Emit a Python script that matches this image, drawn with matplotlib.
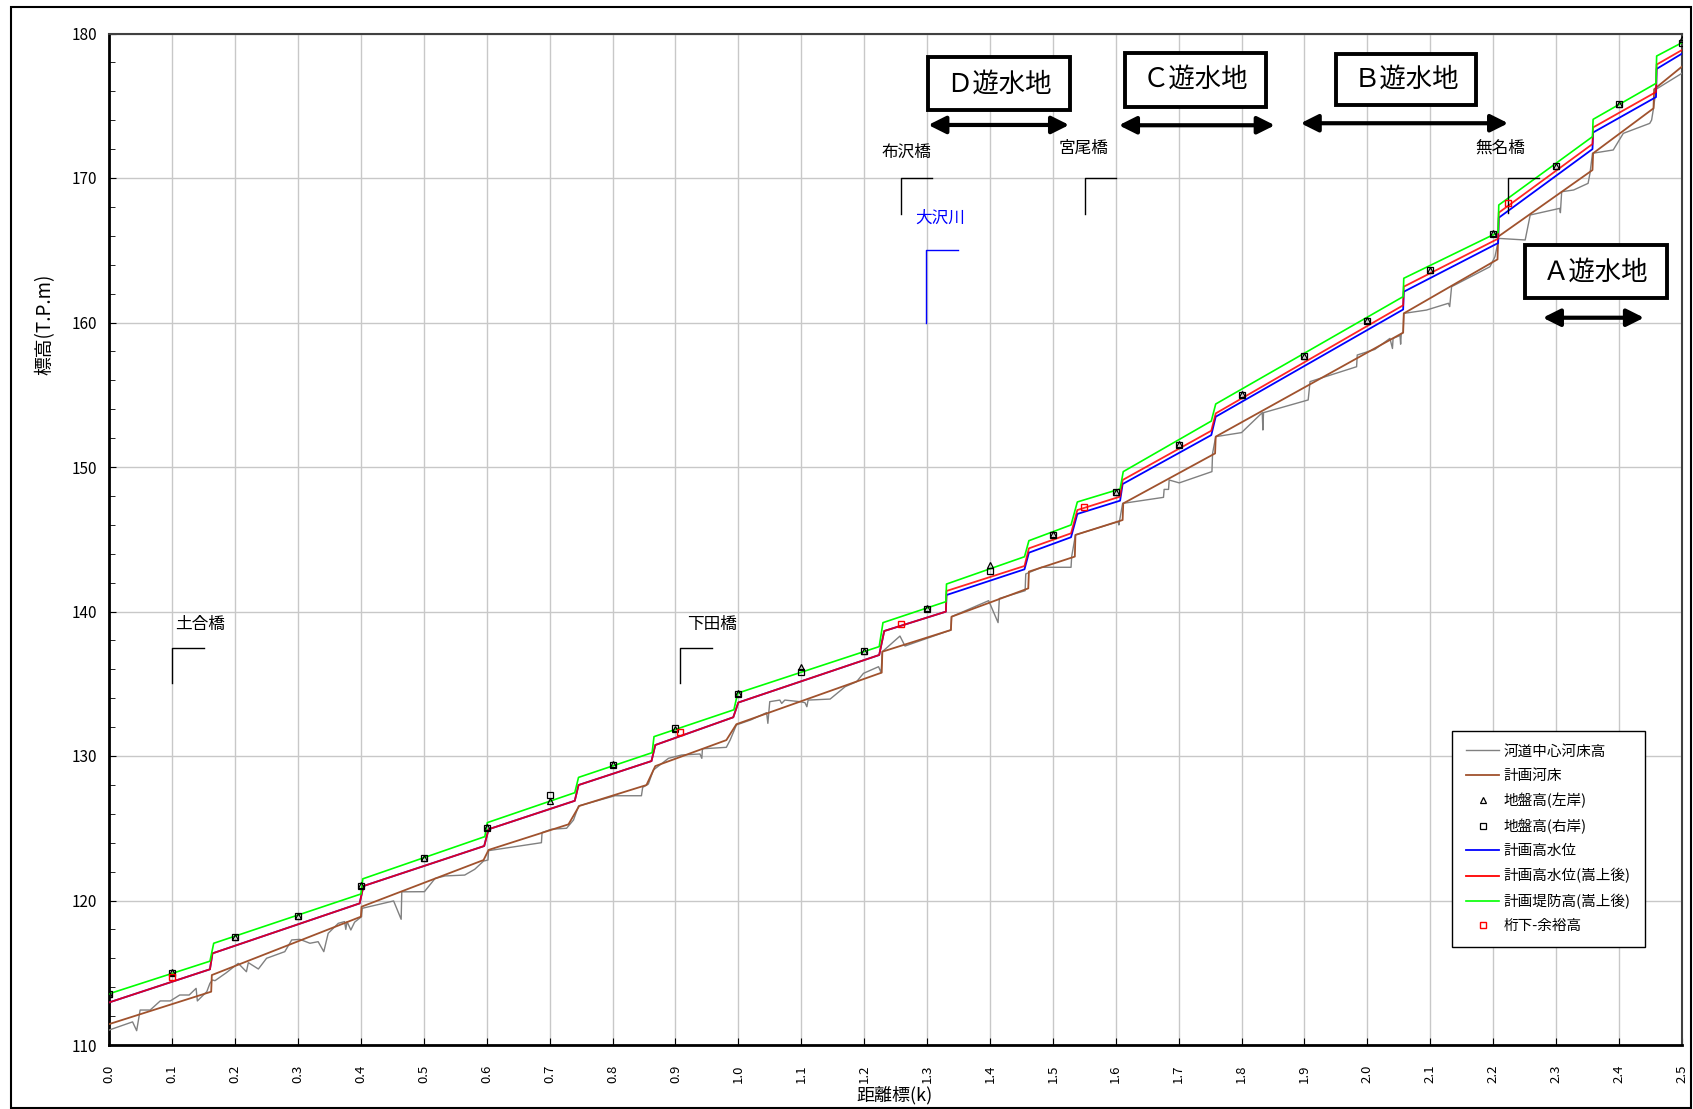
import numpy as np
import matplotlib
matplotlib.use('Agg')
import matplotlib.pyplot as plt
from matplotlib.patches import Rectangle
from matplotlib.lines import Line2D

plt.rcParams['font.family'] = ['Noto Sans CJK JP', 'DejaVu Sans']

# 河道中心河床高 (gray)
bed_x = [0.000, 0.037, 0.0435, 0.049, 0.065, 0.081, 0.097, 0.112, 0.127, 0.138, 0.140, 0.155, 0.160, 0.164,
         0.168, 0.186, 0.205, 0.218, 0.221, 0.237, 0.250, 0.279, 0.290, 0.303, 0.319, 0.332, 0.341, 0.348,
         0.364, 0.374, 0.376, 0.378, 0.384, 0.390, 0.401, 0.402, 0.452, 0.464, 0.465, 0.501, 0.518, 0.534,
         0.565, 0.581, 0.595, 0.602, 0.603, 0.687, 0.688, 0.703, 0.727, 0.738, 0.746, 0.804, 0.846, 0.848,
         0.857, 0.865, 0.889, 0.910, 0.939, 0.942, 0.943, 0.981, 0.987, 0.997, 1.020, 1.045, 1.047, 1.050,
         1.066, 1.069, 1.074, 1.098, 1.106, 1.109, 1.111, 1.146, 1.170, 1.188, 1.199, 1.223, 1.227, 1.229,
         1.257, 1.265, 1.338, 1.339, 1.398, 1.413, 1.415, 1.456, 1.457, 1.482, 1.529, 1.530, 1.536, 1.604,
         1.605, 1.611, 1.676, 1.677, 1.684, 1.685, 1.701, 1.753, 1.754, 1.759, 1.800, 1.833, 1.834, 1.835,
         1.906, 1.909, 1.983, 1.984, 2.012, 2.036, 2.040, 2.041, 2.052, 2.053, 2.054, 2.057, 2.058, 2.094,
         2.129, 2.131, 2.134, 2.195, 2.203, 2.209, 2.251, 2.259, 2.306, 2.307, 2.309, 2.328, 2.351, 2.354,
         2.358, 2.391, 2.407, 2.449, 2.452, 2.455, 2.459, 2.500]
bed_y = [111.04, 111.60, 110.99, 112.42, 112.42, 113.05, 113.05, 113.46, 113.46, 113.92, 113.05, 113.69, 114.27, 114.50,
         114.45, 115.00, 115.65, 115.07, 115.70, 115.26, 116.00, 116.46, 117.27, 117.31, 117.04, 117.15, 116.46, 117.73,
         118.42, 118.54, 118.00, 118.54, 117.96, 118.50, 118.88, 119.46, 119.97, 118.70, 120.60, 120.61, 121.53, 121.70,
         121.76, 122.16, 122.73, 122.80, 123.45, 124.00, 124.70, 124.93, 125.00, 125.57, 126.54, 127.25, 127.25, 127.83,
         128.06, 129.03, 129.84, 130.07, 130.14, 129.84, 130.50, 130.60, 131.10, 132.15, 132.50, 133.00, 132.26, 133.76,
         133.87, 133.64, 133.87, 133.76, 133.69, 133.41, 133.87, 133.94, 134.80, 135.14, 135.72, 136.18, 135.77, 137.22,
         138.30, 137.61, 138.72, 139.64, 140.75, 139.23, 140.90, 141.44, 142.60, 143.06, 143.06, 143.80, 145.30, 146.22,
         145.99, 147.48, 147.90, 148.45, 148.45, 149.10, 148.90, 149.68, 150.94, 152.10, 152.38, 153.76, 152.56, 153.76,
         154.64, 155.91, 156.94, 157.75, 158.14, 158.90, 158.20, 158.90, 159.10, 158.50, 159.20, 159.30, 160.63, 160.86,
         161.33, 161.10, 162.48, 163.86, 164.56, 165.82, 165.71, 167.44, 167.90, 167.60, 169.05, 169.17, 169.63, 170.32,
         171.71, 171.94, 173.09, 173.78, 174.01, 174.82, 176.14, 177.24]

# 計画河床 (brown)
plan_bed_x = [0.000, 0.162, 0.163, 0.400, 0.401, 0.595, 0.603, 0.730, 0.747, 0.854, 0.868, 0.981, 0.997, 1.228,
              1.229, 1.338, 1.339, 1.461, 1.462, 1.535, 1.536, 1.611, 1.612, 1.758, 1.759, 2.057, 2.058, 2.207,
              2.208, 2.358, 2.359, 2.455, 2.456, 2.500]
plan_bed_y = [111.45, 113.69, 114.84, 118.88, 119.57, 122.80, 123.50, 125.27, 126.54, 127.99, 129.30, 131.10, 132.20, 135.77,
              137.22, 138.72, 139.64, 141.60, 142.76, 143.80, 145.30, 146.33, 147.48, 150.94, 152.10, 159.30, 160.63, 164.37,
              165.94, 170.55, 171.71, 174.82, 176.14, 177.70]

# 計画高水位 (blue) / 計画高水位(嵩上後) (red)
hwl_x = [0.000, 0.160, 0.164, 0.398, 0.404, 0.596, 0.603, 0.740, 0.746, 0.862, 0.868, 0.992, 1.000, 1.224, 1.232,
         1.330, 1.331, 1.455, 1.462, 1.529, 1.539, 1.607, 1.611, 1.752, 1.759, 2.057, 2.058, 2.208, 2.209, 2.358,
         2.359, 2.459, 2.460, 2.500]
hwl_blue = [112.95, 115.24, 116.34, 119.80, 121.00, 123.77, 124.93, 126.90, 127.99, 129.65, 130.76, 132.68, 133.70, 136.99, 138.65,
            139.99, 141.14, 142.92, 144.07, 145.14, 146.75, 147.67, 148.82, 152.21, 153.48, 160.90, 162.13, 165.50, 167.25, 172.00,
            173.15, 175.60, 177.55, 178.60]
hwl_red = [112.95, 115.24, 116.34, 119.80, 121.00, 123.77, 124.93, 126.90, 127.99, 129.65, 130.76, 132.68, 133.70, 136.99, 138.65,
           139.99, 141.42, 143.15, 144.37, 145.41, 147.02, 147.95, 149.10, 152.51, 153.71, 161.19, 162.48, 165.80, 167.60, 172.35,
           173.50, 175.95, 177.85, 178.85]

# 計画堤防高(嵩上後) (green)
levee_x = [0.000, 0.160, 0.166, 0.400, 0.403, 0.597, 0.601, 0.740, 0.746, 0.863, 0.866, 0.993, 0.999, 1.224, 1.230,
           1.330, 1.331, 1.455, 1.462, 1.529, 1.539, 1.607, 1.612, 1.752, 1.759, 2.057, 2.058, 2.208, 2.209, 2.358,
           2.359, 2.459, 2.460, 2.500]
levee_y = [113.55, 115.80, 117.04, 120.45, 121.50, 124.42, 125.39, 127.46, 128.52, 130.23, 131.34, 133.20, 134.35, 137.57, 139.23,
           140.68, 141.90, 143.79, 144.90, 145.99, 147.58, 148.48, 149.68, 153.18, 154.36, 161.79, 163.06, 166.24, 168.13, 172.86,
           174.06, 176.55, 178.44, 179.36]

# 地盤高 (left / right bank)
bank_x = [0.0, 0.1, 0.2, 0.3, 0.4, 0.5, 0.6, 0.7, 0.8, 0.9, 1.0, 1.1, 1.2, 1.3, 1.4, 1.5, 1.6, 1.7, 1.8, 1.9,
          2.0, 2.1, 2.2, 2.3, 2.4, 2.5]
left_bank = [113.55, 115.03, 117.50, 118.95, 121.07, 122.97, 125.10, 126.90, 129.42, 131.90, 134.34, 136.18, 137.27,
             140.22, 143.22, 145.34, 148.29, 151.59, 155.05, 157.70, 160.17, 163.63, 166.17, 170.83, 175.10, 179.60]
right_bank = [113.55, 114.95, 117.45, 118.90, 121.00, 122.97, 125.05, 127.32, 129.40, 131.95, 134.30, 135.83, 137.27,
              140.15, 142.83, 145.30, 148.25, 151.55, 155.00, 157.65, 160.10, 163.60, 166.10, 170.80, 175.10, 179.35]

# 桁下-余裕高
girder_x = [0.100, 0.907, 1.258, 1.550, 2.223]
girder_y = [114.73, 131.64, 139.13, 147.25, 168.29]

# bridges: name, position (k), label x, label y, bracket bottom, bracket top
bridge_names = ['土合橋', '下田橋', '布沢橋', '宮尾橋', '無名橋']
bridge_k = [0.100, 0.908, 1.2585, 1.5506, 2.223]
bridge_lx = [0.145, 0.959, 1.268, 1.549, 2.212]
bridge_ly = [139.07, 139.07, 171.8, 172.05, 172.05]
bridge_lo = [135.03, 135.03, 167.5, 167.5, 167.55]
bridge_hi = [137.5, 137.5, 170.0, 170.0, 170.0]

# 遊水地 boxes: label, box (x0, x1, y0, y1), arrow (x0, x1, y)
pond_labels = ['Ｄ遊水地', 'Ｃ遊水地', 'Ｂ遊水地', 'Ａ遊水地']
pond_box = [(1.302, 1.528, 174.70, 178.35), (1.614, 1.839, 174.94, 178.67),
            (1.950, 2.173, 175.07, 178.60), (2.250, 2.476, 161.67, 165.36)]
pond_arrow = [(1.302, 1.526, 173.67), (1.605, 1.853, 173.65), (1.894, 2.224, 173.79), (2.279, 2.440, 160.33)]

W, H = 1693, 1109
fig = plt.figure(figsize=(W / 100, H / 100), dpi=100)
ax = fig.add_axes([109.3 / W, 1 - 1045 / H, 1572.5 / W, 1011.5 / H])

ax.plot(bed_x, bed_y, color='#808080', lw=1.0, zorder=3)
ax.plot(plan_bed_x, plan_bed_y, color='#A0522D', lw=1.3, zorder=4)
ax.plot(hwl_x, hwl_blue, color='#0000FF', lw=1.3, zorder=5)
ax.plot(hwl_x, hwl_red, color='#FF0000', lw=1.3, zorder=6, alpha=0.85)
ax.plot(levee_x, levee_y, color='#00FF00', lw=1.2, zorder=6)
ax.plot(bank_x, left_bank, ls='none', marker='^', ms=5, mfc='none', mec='black', mew=0.9, zorder=7)
ax.plot(bank_x, right_bank, ls='none', marker='s', ms=4.5, mfc='none', mec='black', mew=0.9, zorder=7)
ax.plot(girder_x, girder_y, ls='none', marker='s', ms=5, mfc='none', mec='#FF0000', mew=1.0, zorder=8)

# bridge brackets and names
for name, k, lx, ly, lo, hi in zip(bridge_names, bridge_k, bridge_lx, bridge_ly, bridge_lo, bridge_hi):
    ax.plot([k, k, k + 0.05], [lo, hi, hi], color='black', lw=1.0, zorder=6)
    ax.text(lx, ly, name, ha='center', va='center', fontsize=12, zorder=9)

# tributary 大沢川
ax.plot([1.2988, 1.2988, 1.349], [160.0, 165.0, 165.0], color='#0000FF', lw=1.0, zorder=6)
ax.text(1.321, 167.2, '大沢川', color='#0000FF', ha='center', va='center', fontsize=12, zorder=9)

# retention basin boxes and arrows
for label, (x0, x1, y0, y1), (a0, a1, ay) in zip(pond_labels, pond_box, pond_arrow):
    ax.add_patch(Rectangle((x0, y0), x1 - x0, y1 - y0, facecolor='white', edgecolor='black', lw=2.8, zorder=10))
    ax.text((x0 + x1) / 2, (y0 + y1) / 2, label, ha='center', va='center', fontsize=19, zorder=11)
    ax.annotate('', xy=(a1, ay), xytext=(a0, ay), zorder=10,
                arrowprops=dict(arrowstyle='<|-|>', lw=3, color='black', mutation_scale=26, shrinkA=0, shrinkB=0))

ax.set_xlim(0, 2.5)
ax.set_ylim(110, 180)
ax.set_xticks(np.round(np.arange(0, 2.51, 0.1), 1))
ax.set_xticklabels(['%.1f' % v for v in np.arange(0, 2.51, 0.1)], rotation=90)
ax.set_yticks(np.arange(110, 181, 10))
ax.set_yticks(np.arange(110, 181, 2), minor=True)
ax.tick_params(axis='x', direction='in', length=5, pad=14, labelsize=9.5)
ax.tick_params(axis='y', which='major', direction='in', length=5, pad=9, labelsize=11)
ax.tick_params(axis='y', which='minor', direction='in', length=4)
ax.tick_params(axis='x', which='minor', bottom=False)
ax.grid(True, which='major', color='#c8c8c8', lw=1.0, zorder=0)
ax.set_axisbelow(True)
for s in ax.spines.values():
    s.set_color('#404040')
    s.set_linewidth(1.5)
ax.spines['left'].set_color('black')
ax.spines['bottom'].set_color('black')
ax.spines['left'].set_linewidth(2)
ax.spines['bottom'].set_linewidth(2)

fig.text(895 / W, 1 - 1095 / H, '距離標(k)', ha='center', va='center', fontsize=13)
fig.text(45 / W, 1 - 324 / H, '標高(T.P.m)', ha='center', va='center', fontsize=13.5, rotation=90)

handles = [
    Line2D([], [], color='#808080', lw=1.0),
    Line2D([], [], color='#A0522D', lw=1.3),
    Line2D([], [], ls='none', marker='^', ms=5, mfc='none', mec='black', mew=0.9),
    Line2D([], [], ls='none', marker='s', ms=4.5, mfc='none', mec='black', mew=0.9),
    Line2D([], [], color='#0000FF', lw=1.3),
    Line2D([], [], color='#FF0000', lw=1.3),
    Line2D([], [], color='#00FF00', lw=1.2),
    Line2D([], [], ls='none', marker='s', ms=5, mfc='none', mec='#FF0000', mew=1.0),
]
labels = ['河道中心河床高', '計画河床', '地盤高(左岸)', '地盤高(右岸)', '計画高水位',
          '計画高水位(嵩上後)', '計画堤防高(嵩上後)', '桁下-余裕高']
leg = ax.legend(handles, labels, loc='upper right', bbox_to_anchor=(0.981, 0.318), fontsize=10.5,
                labelspacing=0.7, handlelength=2.3, handletextpad=0.3, borderpad=0.95,
                fancybox=False, edgecolor='black', framealpha=1)
leg.get_frame().set_linewidth(1.0)
leg.set_zorder(12)

fig.patches.append(Rectangle((10.7 / W, 1 / H), (1691 - 10.7) / W, (1108 - 6.7) / H, transform=fig.transFigure,
                             fill=False, edgecolor='black', lw=1.5))

fig.savefig('out.png', dpi=100)
